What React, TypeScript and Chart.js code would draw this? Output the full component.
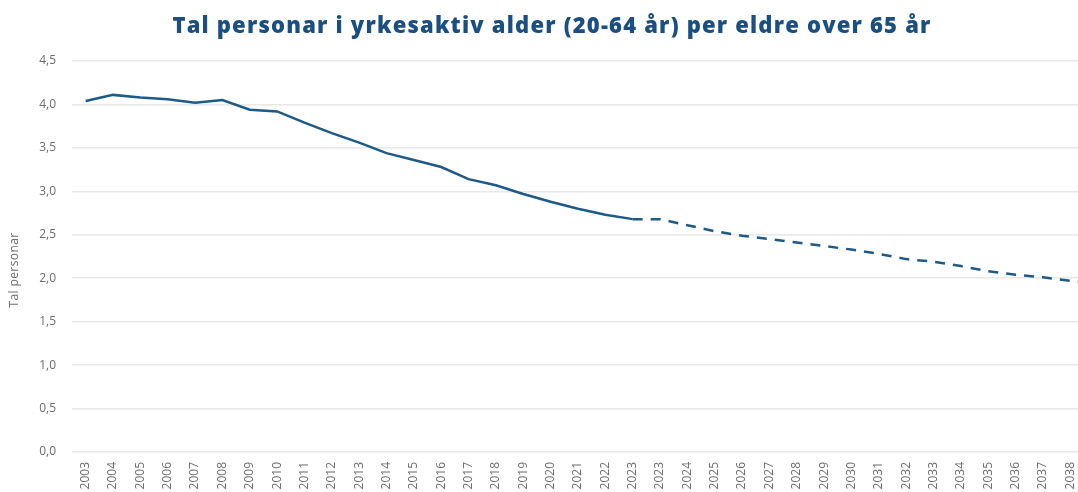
import React, { useEffect, useRef } from "react";
import { Chart, registerables } from "chart.js";

Chart.register(...registerables);

const TITLE = "Tal personar i yrkesaktiv alder (20-64 år) per eldre over 65 år";
const Y_TITLE = "Tal personar";

const categories = [
  "2003", "2004", "2005", "2006", "2007", "2008", "2009", "2010", "2011", "2012",
  "2013", "2014", "2015", "2016", "2017", "2018", "2019", "2020", "2021", "2022",
  "2023", "2023", "2024", "2025", "2026", "2027", "2028", "2029", "2030", "2031",
  "2032", "2033", "2034", "2035", "2036", "2037", "2038", "2039",
];

// Historical (solid) series
const historical = [
  4.04, 4.11, 4.08, 4.06, 4.02, 4.05, 3.94, 3.92, 3.79, 3.67,
  3.56, 3.44, 3.36, 3.28, 3.14, 3.07, 2.97, 2.88, 2.80, 2.73,
  2.68, null, null, null, null, null, null, null, null, null,
  null, null, null, null, null, null, null, null,
];

// Projection (dashed) series
const projection = [
  null, null, null, null, null, null, null, null, null, null,
  null, null, null, null, null, null, null, null, null, null,
  2.68, 2.68, 2.61, 2.54, 2.49, 2.45, 2.41, 2.37, 2.33, 2.28,
  2.22, 2.19, 2.14, 2.08, 2.04, 2.01, 1.97, 1.94,
];

const Y_MIN = 0;
const Y_MAX = 4.5;
const Y_STEP = 0.5;

const LINE_COLOR = "#1d5a88";
const TITLE_COLOR = "#1b4f82";
const TICK_COLOR = "#6e6e6e";
const GRID_COLOR = "#e8e8e8";

const titlePlugin = {
  id: "customTitles",
  afterDraw(chart: any) {
    const ctx = chart.ctx;
    ctx.save();
    ctx.font = '800 22px "Open Sans"';
    try {
      (ctx as any).letterSpacing = "1.2px";
    } catch (e) {}
    ctx.fillStyle = TITLE_COLOR;
    ctx.textAlign = "center";
    ctx.textBaseline = "middle";
    ctx.fillText(TITLE, 552, 27);
    ctx.restore();

    ctx.save();
    ctx.font = '12px "Open Sans"';
    try {
      (ctx as any).letterSpacing = "0.4px";
    } catch (e) {}
    ctx.fillStyle = TICK_COLOR;
    ctx.textAlign = "center";
    ctx.textBaseline = "middle";
    ctx.translate(15, 270);
    ctx.rotate(-Math.PI / 2);
    ctx.fillText(Y_TITLE, 0, 0);
    ctx.restore();
  },
};

export default function App() {
  const ref = useRef<HTMLCanvasElement | null>(null);

  useEffect(() => {
    if (!ref.current) return;
    const chart = new Chart(ref.current, {
      type: "line",
      data: {
        labels: categories,
        datasets: [
          {
            data: historical,
            borderColor: LINE_COLOR,
            borderWidth: 2.5,
            pointRadius: 0,
            tension: 0,
            spanGaps: false,
          },
          {
            data: projection,
            borderColor: LINE_COLOR,
            borderWidth: 2.5,
            borderDash: [10, 8],
            pointRadius: 0,
            tension: 0,
            spanGaps: false,
          },
        ],
      },
      options: {
        responsive: false,
        animation: false,
        layout: { padding: { top: 61, right: 0, left: 0, bottom: 0 } },
        plugins: {
          legend: { display: false },
          title: { display: false },
          tooltip: { enabled: false },
        },
        scales: {
          x: {
            offset: true,
            afterFit(scale: any) {
              scale.height = 40;
            },
            grid: { display: false, drawTicks: false },
            border: { display: false },
            ticks: {
              autoSkip: false,
              minRotation: 90,
              maxRotation: 90,
              padding: 10,
              color: TICK_COLOR,
              font: { family: '"Open Sans"', size: 12 },
            },
          },
          y: {
            min: Y_MIN,
            max: Y_MAX,
            afterFit(scale: any) {
              scale.width = 72;
            },
            grid: { color: GRID_COLOR, lineWidth: 1.5, drawTicks: false },
            border: { display: false },
            ticks: {
              stepSize: Y_STEP,
              padding: 16,
              color: TICK_COLOR,
              font: { family: '"Open Sans"', size: 12 },
              callback: (v: any) => Number(v).toFixed(1).replace(".", ","),
            },
          },
        },
      },
      plugins: [titlePlugin],
    });
    return () => chart.destroy();
  }, []);

  return (
    <div
      style={{
        position: "fixed",
        left: 0,
        top: 0,
        width: 1078,
        height: 492,
        overflow: "hidden",
        background: "#fff",
      }}
    >
      <canvas ref={ref} width={1122} height={492} style={{ display: "block" }} />
    </div>
  );
}
